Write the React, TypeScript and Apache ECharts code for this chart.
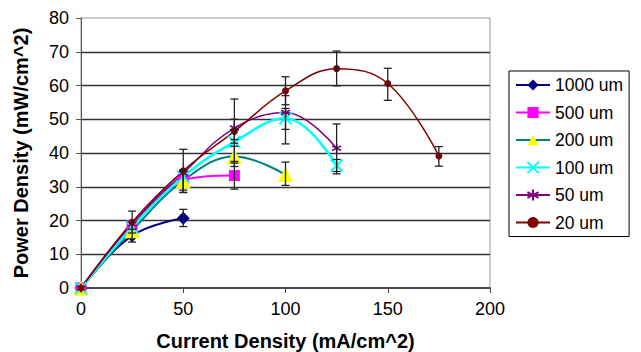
import React, { useEffect, useRef } from "react";
import * as echarts from "echarts";

const seriesNames = ["1000 um", "500 um", "200 um", "100 um", "50 um", "20 um"];
const xTicks = [0, 50, 100, 150, 200];

const d1000 = [[0, 0], [25, 15.5], [50, 20.7]];
const d500 = [[0, 0], [25, 18.5], [50, 32], [75, 33.3]];
const d200 = [[0, 0], [25, 17], [50, 31.8], [75, 39], [100, 33.6]];
const d100 = [[0, 0], [25, 18], [50, 33], [75, 43.3], [100, 50.3], [125, 36.3]];
const d50 = [[0, 0], [25, 19], [50, 34], [75, 47.4], [100, 52], [125, 41.4]];
const d20 = [[0, 0], [25, 19.5], [50, 34.7], [75, 46.4], [100, 58.4], [125, 65], [150, 60.6], [175, 39.1]];

// error bars: [x, low, high]
const e1000 = [[25, 13.6, 17.4], [50, 18.2, 23.3]];
const e500 = [[50, 28.3, 35], [75, 29.3, 37.5]];
const e200 = [[50, 29, 35], [75, 36, 42], [100, 30.4, 37.3]];
const e100 = [[75, 42.9, 47], [100, 42.7, 53.2], [125, 33.8, 38.1]];
const e50 = [[75, 44, 50], [100, 47, 57], [125, 34.5, 48.6]];
const e20 = [[25, 16.3, 22.8], [50, 28.3, 41.1], [75, 37, 56], [100, 54.3, 62.6], [125, 59.9, 70.2], [150, 55.6, 65.1], [175, 36.1, 41.9]];

const colors = ["#000080", "#ff00ff", "#008080", "#00ffff", "#800080", "#800000"];
const markerColors = ["#000080", "#ff00ff", "#ffff00", "#00ffff", "#800080", "#800000"];

const CROSS = "path://M0,0L10,10M10,0L0,10";
const STAR = "path://M5,0L5,10M0.7,2.5L9.3,7.5M9.3,2.5L0.7,7.5";

export default function App() {
  const ref = useRef<HTMLDivElement>(null);
  useEffect(() => {
    if (!ref.current) return;
    const chart = echarts.init(ref.current, null, { renderer: "svg" });
    const font = "Liberation Sans, Arial, sans-serif";
    const datas = [d1000, d500, d200, d100, d50, d20];
    const errs = [e1000, e500, e200, e100, e50, e20];
    const symbols = ["diamond", "rect", "triangle", CROSS, STAR, "circle"];
    const sizes = [13, 11, 15, 12, 9, 7];
    const widths = [2, 2, 2, 2.5, 1.5, 1.5];

    const lineSeries = datas.map((d, i) => ({
      name: seriesNames[i],
      type: "line",
      data: d,
      smooth: 0.4,
      symbol: symbols[i],
      symbolSize: sizes[i],
      lineStyle: { color: colors[i], width: widths[i] },
      itemStyle: {
        color: markerColors[i],
        borderColor: markerColors[i],
        borderWidth: i === 3 ? 2 : i === 4 ? 1.5 : 0,
      },
      z: 3,
    }));

    const errSeries = errs.map((e, i) => ({
      name: "err" + i,
      type: "custom",
      data: e,
      z: 4,
      renderItem: (params: any, api: any) => {
        const x = api.value(0);
        const lo = api.coord([x, api.value(1)]);
        const hi = api.coord([x, api.value(2)]);
        const w = 4;
        const style = { stroke: "#222", lineWidth: 1.3 };
        return {
          type: "group",
          children: [
            { type: "line", shape: { x1: lo[0], y1: lo[1], x2: hi[0], y2: hi[1] }, style },
            { type: "line", shape: { x1: lo[0] - w, y1: lo[1], x2: lo[0] + w, y2: lo[1] }, style },
            { type: "line", shape: { x1: hi[0] - w, y1: hi[1], x2: hi[0] + w, y2: hi[1] }, style },
          ],
        };
      },
    }));

    chart.setOption({
      animation: false,
      backgroundColor: "#fff",
      textStyle: { fontFamily: font },
      grid: {
        left: 81, right: 151, top: 18, bottom: 64,
        outerBoundsMode: "none", containLabel: false,
        show: true, borderColor: "#999", borderWidth: 1,
      },
      legend: {
        data: seriesNames,
        orient: "vertical",
        left: 509,
        top: 71,
        borderColor: "#000",
        borderWidth: 1,
        padding: [5, 6, 5, 6],
        itemWidth: 34,
        itemHeight: 14,
        itemGap: 9.5,
        textStyle: { fontSize: 17.5, color: "#000", fontFamily: font },
      },
      xAxis: {
        type: "value",
        min: 0,
        max: 200,
        interval: 50,
        name: "Current Density (mA/cm^2)",
        nameLocation: "middle",
        nameGap: 43,
        nameTextStyle: { fontSize: 20, fontWeight: "bold", color: "#000", fontFamily: font },
        axisLine: { show: true, onZero: false, lineStyle: { color: "#222", width: 1.5 } },
        axisTick: { show: true, length: 5, lineStyle: { color: "#444" } },
        axisLabel: { fontSize: 18, color: "#000", margin: 12, fontFamily: font },
        splitLine: { show: false },
      },
      yAxis: {
        type: "value",
        min: 0,
        max: 80,
        interval: 10,
        name: "Power Density (mW/cm^2)",
        nameLocation: "middle",
        nameGap: 50,
        nameTextStyle: { fontSize: 20, fontWeight: "bold", color: "#000", fontFamily: font },
        axisLine: { show: true, lineStyle: { color: "#555", width: 1 } },
        axisTick: { show: true, length: 5, lineStyle: { color: "#555" } },
        axisLabel: { fontSize: 18, color: "#000", margin: 12, fontFamily: font },
        splitLine: { show: true, showMinLine: false, showMaxLine: false, lineStyle: { color: "#333", width: 1.3 } },
      },
      series: [...lineSeries, ...errSeries],
    });
    return () => chart.dispose();
  }, []);
  return <div ref={ref} style={{ width: 641, height: 352, position: "absolute", left: 0, top: 0 }} />;
}
